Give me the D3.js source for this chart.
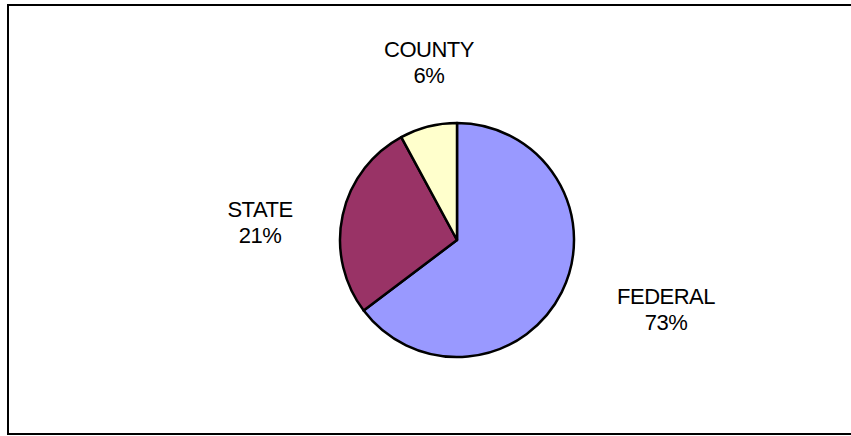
<!DOCTYPE html>
<html>
<head>
<meta charset="utf-8">
<script src="https://cdn.jsdelivr.net/npm/d3@7"></script>
<style>
  html, body { margin: 0; padding: 0; background: #fff; }
  svg { display: block; }
</style>
</head>
<body>
<svg id="chart" width="851" height="436"></svg>
<script>
const categories = ["FEDERAL", "STATE", "COUNTY"];
const sliceValues = [64.7, 27.4, 7.9];
const labelPercents = ["73%", "21%", "6%"];
const colors = ["#9999FF", "#993366", "#FFFFCC"];

const svg = d3.select("#chart");
const W = 851, H = 436;

// frame
svg.append("rect")
  .attr("x", 8).attr("y", 5)
  .attr("width", W + 10).attr("height", 429)
  .attr("fill", "#fff")
  .attr("stroke", "#000")
  .attr("stroke-width", 2);

const cx = 457, cy = 240, r = 117;
const data = categories.map((c, i) => ({ name: c, value: sliceValues[i], label: labelPercents[i], color: colors[i] }));

const pie = d3.pie().sort(null).value(d => d.value);
const arc = d3.arc().innerRadius(0).outerRadius(r);
const arcs = pie(data);

const g = svg.append("g").attr("transform", `translate(${cx},${cy})`);
g.selectAll("path")
  .data(arcs)
  .join("path")
  .attr("d", arc)
  .attr("fill", d => d.data.color)
  .attr("stroke", "#000")
  .attr("stroke-width", 2.5)
  .attr("stroke-linejoin", "round");

// label positions relative to the pie centre (dx, dy of first line baseline)
const labelOffsets = [[209, 64], [-197, -23], [-28, -183]];
const lg = g.selectAll("text.lbl")
  .data(arcs)
  .join("text")
  .attr("class", "lbl")
  .attr("text-anchor", "middle")
  .attr("font-family", "Arial, 'Liberation Sans', sans-serif")
  .attr("font-size", 22)
  .attr("letter-spacing", -0.5)
  .attr("fill", "#000")
  .attr("transform", (d, i) => `translate(${labelOffsets[i][0]},${labelOffsets[i][1]})`);
lg.append("tspan").attr("x", 0).attr("y", 0).text(d => d.data.name);
lg.append("tspan").attr("x", 0).attr("y", 26).text(d => d.data.label);
</script>
</body>
</html>
